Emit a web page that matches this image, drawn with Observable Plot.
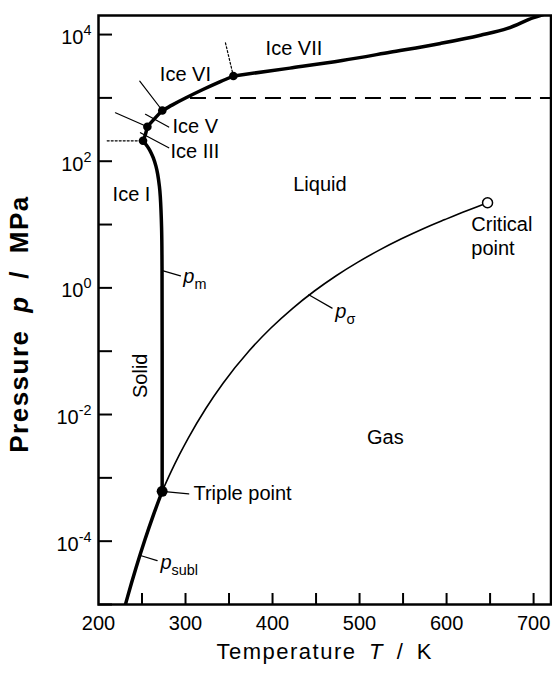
<!DOCTYPE html>
<html><head><meta charset="utf-8">
<script src="https://cdn.jsdelivr.net/npm/d3@7"></script>
<script src="https://cdn.jsdelivr.net/npm/@observablehq/plot@0.6"></script>
<style>html,body{margin:0;padding:0;background:#fff}</style>
</head><body><div id="chart"></div>
<script>
// ---------- axis ticks ----------
const xTicksAll = [250, 300, 350, 400, 450, 500, 550, 600, 650, 700];
const xTickLabels = [200, 300, 400, 500, 600, 700];
const yTicksAll = [1e-5, 1e-4, 1e-3, 1e-2, 1e-1, 1, 1e1, 1e2, 1e3, 1e4];
const yTickLabels = [1e-4, 1e-2, 1, 1e2, 1e4];

// ---------- phase boundaries (T in K, p in MPa) ----------
const sublT = [223.15, 233.15, 243.15, 253.15, 263.15, 273.16];
const sublP = [3.94e-6, 1.284e-5, 3.798e-5, 1.0326e-4, 2.599e-4, 6.11657e-4];

const vapT = [273.16, 283.15, 293.15, 303.15, 323.15, 343.15, 373.15, 398.15, 423.15, 448.15, 473.15, 498.15, 523.15, 548.15, 573.15, 598.15, 623.15, 638.15, 647.096];
const vapP = [6.11657e-4, 1.2282e-3, 2.3393e-3, 4.247e-3, 1.2352e-2, 3.1201e-2, 0.101418, 0.23224, 0.47616, 0.8926, 1.5549, 2.5497, 3.9762, 5.9464, 8.5879, 11.983, 16.529, 19.822, 22.064];

const meltIhT = [273.16, 273.15, 273.0, 272.5, 271, 270, 268, 266, 263, 260.5, 258, 255, 251.165];
const meltIhP = [6.11657e-4, 0.1013, 2.16, 8.8, 27.9, 40.0, 62.6, 83.7, 112.7, 135.1, 156.2, 180.3, 209.9];
const meltIIIT = [251.165, 253.5, 254.8, 256.164];
const meltIIIP = [209.9, 255.1, 294.2, 350.1];
const meltVT = [256.164, 260, 265, 269, 273.31];
const meltVP = [350.1, 402.6, 479.7, 549.1, 632.4];
const meltVIT = [273.31, 285, 300, 320, 340, 355];
const meltVIP = [632.4, 776.8, 996, 1357, 1808, 2216];
const meltVIIT = [355, 420, 480, 535, 593, 639, 670, 700, 720];
const meltVIIP = [2216, 2951, 3890, 5248, 7244, 9772, 12500, 18500, 22500];

// solid–solid boundaries
const bIIIVT = [219.5, 256.164];   const bIIIVP = [582, 350.1];
const bVVIT = [247.4, 273.31];     const bVVIP = [1841, 632.4];
const bVIVIIT = [345.9, 355];      const bVIVIIP = [7396, 2216];   // dotted
const bIIIIT = [210, 251.165];     const bIIIIP = [209.9, 209.9];  // dotted

// 1 GPa reference (dashed)
const dashT = [305.7, 720];
const dashP = 1000;

// special points
const tripleT = [273.16];        const tripleP = [6.11657e-4];
const iceTripleT = [251.165, 256.164, 273.31, 355];
const iceTripleP = [209.9, 350.1, 632.4, 2216];
const critT = [647.096];         const critP = [22.064];

// leader lines [start, end]
const leadIceVT = [254, 280.7];      const leadIceVP = [550, 346];
const leadIceIIIT = [248.2, 280.7];  const leadIceIIIP = [282, 163];
const leadPmT = [274.4, 294.2];      const leadPmP = [1.85, 1.55];
const leadPsT = [441.6, 468.4];      const leadPsP = [0.776, 0.479];
const leadTpT = [273.16, 303.7];     const leadTpP = [6.11657e-4, 5.57e-4];
const leadPsublT = [248.2, 267.4];   const leadPsublP = [5.93e-5, 4.94e-5];

// labels
const midLabels = ["Ice VII", "Ice VI", "Liquid", "Ice I", "Gas"];
const midT = [424.6, 299.9, 454.4, 237.9, 529.7];
const midP = [6095, 2291, 42.2, 29.3, 4.31e-3];
const startLabels = ["Ice V", "Ice III", "Triple point", "Critical", "point"];
const startT = [285.0, 282.7, 309.1, 628.4, 628.4];
const startP = [346, 139.7, 5.57e-4, 9.86, 4.12];
const symLabels = ["*p*_{m}", "*p*_{σ}", "*p*_{subl}"];
const symT = [297.5, 472.2, 271.2];
const symP = [1.37, 0.385, 4.12e-5];
const solidLabel = ["Solid"];
const solidT = [248.2];
const solidP = [0.0409];
const xTitle = ["Temperature *T* / K"];
const yTitle = ["Pressure *p* / MPa"];

const FONT = "'Liberation Sans', Arial, Helvetica, sans-serif";
const line = (T, P, o = {}) => Plot.line(T, {x: T, y: P, stroke: "black", ...o});

const chart = Plot.plot({
  width: 552, height: 673,
  marginLeft: 98, marginRight: 1.5, marginTop: 15, marginBottom: 69,
  style: {fontFamily: FONT, fontSize: "20px", background: "white", color: "black"},
  x: {domain: [200, 720], label: null},
  y: {type: "log", domain: [1e-5, 2e4], label: null},
  marks: [
    // axes
    Plot.axisX({ticks: xTicksAll, tickSize: -11, strokeWidth: 2, tickFormat: () => "", label: null}),
    Plot.axisX({ticks: xTickLabels, tickSize: 0, tickPadding: 11, fontSize: 20, label: null, tickFormat: d => String(d)}),
    Plot.axisY({ticks: yTicksAll, tickSize: -14, strokeWidth: 2, tickFormat: () => "", label: null}),
    Plot.axisY({ticks: yTickLabels, tickSize: 0, tickPadding: 7, fontSize: 20, dy: 3, label: null,
      tickFormat: d => { const e = Math.round(Math.log10(d)); return "10^{" + (e < 0 ? "-" + (-e) : e) + "}"; }}),
    // dashed 1 GPa line
    Plot.ruleY([dashP], {x1: dashT[0], x2: dashT[1], stroke: "black", strokeWidth: 2, strokeDasharray: "16,9"}),
    // thin boundaries
    line(bIIIVT, bIIIVP, {strokeWidth: 1.2}),
    line(bVVIT, bVVIP, {strokeWidth: 1.2}),
    line(bVIVIIT, bVIVIIP, {strokeWidth: 1.2, strokeDasharray: "2,2"}),
    line(bIIIIT, bIIIIP, {strokeWidth: 1.2, strokeDasharray: "2,2"}),
    // leaders
    line(leadIceVT, leadIceVP, {strokeWidth: 1.2}),
    line(leadIceIIIT, leadIceIIIP, {strokeWidth: 1.2}),
    line(leadPmT, leadPmP, {strokeWidth: 1.2}),
    line(leadPsT, leadPsP, {strokeWidth: 1.2}),
    line(leadTpT, leadTpP, {strokeWidth: 1.2}),
    line(leadPsublT, leadPsublP, {strokeWidth: 1.2}),
    // vapour pressure
    line(vapT, vapP, {strokeWidth: 1.6, curve: "monotone-x"}),
    // thick boundaries
    line(sublT, sublP, {strokeWidth: 3.5, curve: "monotone-x", clip: true}),
    line(meltIhT, meltIhP, {strokeWidth: 3.5, curve: "catmull-rom", strokeLinejoin: "round"}),
    line(meltIIIT, meltIIIP, {strokeWidth: 3.5, curve: "catmull-rom"}),
    line(meltVT, meltVP, {strokeWidth: 3.5, curve: "catmull-rom"}),
    line(meltVIT, meltVIP, {strokeWidth: 3.5, curve: "catmull-rom"}),
    line(meltVIIT, meltVIIP, {strokeWidth: 3.5, curve: "monotone-x", clip: true}),
    // points
    Plot.dot(tripleT, {x: tripleT, y: tripleP, r: 5.5, fill: "black"}),
    Plot.dot(iceTripleT, {x: iceTripleT, y: iceTripleP, r: 4.3, fill: "black"}),
    Plot.dot(critT, {x: critT, y: critP, r: 5, fill: "white", stroke: "black", strokeWidth: 1.5}),
    // labels
    Plot.text(midLabels, {x: midT, y: midP, text: d => d, fontSize: 20, textAnchor: "middle"}),
    Plot.text(startLabels, {x: startT, y: startP, text: d => d, fontSize: 20, textAnchor: "start"}),
    Plot.text(symLabels, {x: symT, y: symP, text: d => d, fontSize: 20, textAnchor: "start", dy: -3}),
    Plot.text(solidLabel, {x: solidT, y: solidP, text: d => d, fontSize: 20, rotate: -90}),
    Plot.text(xTitle, {frameAnchor: "bottom", text: d => d, dy: 54, fontSize: 22, textAnchor: "middle"}),
    Plot.text(yTitle, {frameAnchor: "left", text: d => d, dx: -79, dy: 14, rotate: -90, fontSize: 26,
      fontWeight: "bold", textAnchor: "middle"}),
    Plot.frame({stroke: "black", strokeWidth: 2.5})
  ]
});
document.getElementById("chart").appendChild(chart);

// rich text: *italic*, _{sub}, ^{sup}
const NS = "http://www.w3.org/2000/svg";
function rich(el) {
  const s = el.textContent;
  if (!/\*|_\{|\^\{/.test(s)) return;
  const re = /\*([^*]+)\*|_\{([^}]+)\}|\^\{([^}]+)\}/g;
  const parts = []; let last = 0, m;
  while ((m = re.exec(s))) {
    if (m.index > last) parts.push({t: s.slice(last, m.index), k: ""});
    if (m[1] != null) parts.push({t: m[1], k: "i"});
    else if (m[2] != null) parts.push({t: m[2], k: "sub"});
    else parts.push({t: m[3], k: "sup"});
    last = re.lastIndex;
  }
  if (last < s.length) parts.push({t: s.slice(last), k: ""});
  const fs = parseFloat(getComputedStyle(el).fontSize) || 20;
  while (el.firstChild) el.removeChild(el.firstChild);
  let shift = 0;
  for (const p of parts) {
    const ts = document.createElementNS(NS, "tspan");
    ts.textContent = p.t;
    const target = p.k === "sub" ? 0.3 * fs : p.k === "sup" ? -0.45 * fs : 0;
    if (target !== shift) ts.setAttribute("dy", target - shift);
    shift = target;
    if (p.k === "i") ts.setAttribute("font-style", "italic");
    if (p.k === "sub" || p.k === "sup") ts.setAttribute("font-size", (0.72 * fs) + "px");
    el.appendChild(ts);
  }
}
chart.querySelectorAll("text").forEach(t => {
  const tsp = t.querySelectorAll("tspan");
  if (tsp.length) tsp.forEach(rich); else rich(t);
});
chart.querySelectorAll("text").forEach(t => {
  if (/Temperature/.test(t.textContent)) { t.setAttribute("word-spacing", "5"); t.setAttribute("letter-spacing", "1.5"); }
  if (/Pressure/.test(t.textContent)) { t.setAttribute("word-spacing", "8"); t.setAttribute("letter-spacing", "1.5"); }
});
</script>
</body></html>
